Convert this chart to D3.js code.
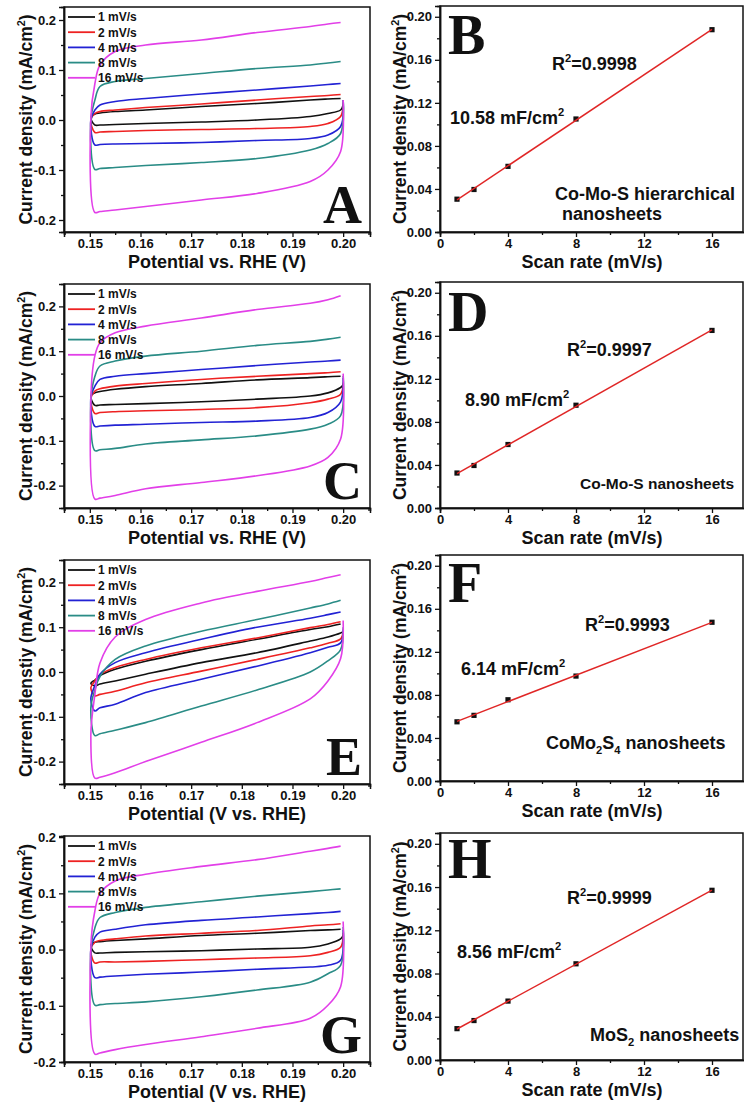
<!DOCTYPE html>
<html>
<head>
<meta charset="utf-8">
<script src="https://cdn.jsdelivr.net/npm/d3@7"></script>
<style>
  body { margin: 0; background: #fff; }
  text { font-family: "Liberation Sans", Arial, sans-serif; font-weight: bold; fill: #111; }
  .letter { font-family: "Liberation Serif", "Times New Roman", serif; font-weight: bold; }
</style>
</head>
<body>
<svg id="fig" width="744" height="1104"></svg>
<script>
/* DATA */
const cvRates = ["1 mV/s", "2 mV/s", "4 mV/s", "8 mV/s", "16 mV/s"];
const cvColors = ["#111111", "#ee2222", "#2222d4", "#2a8c86", "#e23fe8"];
// potentials (V) where the branches were read
const cvPotential = [0.151, 0.152, 0.155, 0.161, 0.172, 0.183, 0.1935, 0.197, 0.1995];

// panel A
const cvUpperA = [
  [0.012, 0.014, 0.017, 0.020, 0.027, 0.033, 0.040, 0.042, 0.043],
  [0.013, 0.017, 0.020, 0.025, 0.032, 0.040, 0.047, 0.049, 0.051],
  [0.020, 0.030, 0.037, 0.043, 0.052, 0.060, 0.068, 0.071, 0.073],
  [0.040, 0.067, 0.077, 0.083, 0.093, 0.103, 0.110, 0.114, 0.117],
  [0.073, 0.110, 0.137, 0.150, 0.160, 0.175, 0.187, 0.192, 0.195]
];
const cvLowerA = [
  [-0.010, -0.010, -0.009, -0.007, -0.004, 0.000, 0.007, 0.013, 0.020],
  [-0.025, -0.024, -0.023, -0.021, -0.019, -0.017, -0.013, -0.007, 0.007],
  [-0.050, -0.049, -0.048, -0.047, -0.045, -0.041, -0.037, -0.030, -0.013],
  [-0.099, -0.097, -0.095, -0.091, -0.085, -0.077, -0.060, -0.047, -0.027],
  [-0.185, -0.183, -0.180, -0.173, -0.160, -0.147, -0.123, -0.100, -0.063]
];
const cvStartA = [0.030, 0.035, 0.040, 0.040, 0.040];
const cvVertexA = [0.005, 0.000, 0.000, 0.000, 0.005];

// panel C
const cvUpperC = [
  [0.007, 0.010, 0.015, 0.021, 0.028, 0.036, 0.041, 0.043, 0.044],
  [0.011, 0.016, 0.022, 0.028, 0.037, 0.044, 0.050, 0.052, 0.054],
  [0.022, 0.037, 0.044, 0.050, 0.059, 0.068, 0.076, 0.078, 0.080],
  [0.044, 0.067, 0.078, 0.089, 0.100, 0.113, 0.122, 0.127, 0.131],
  [0.090, 0.119, 0.141, 0.156, 0.174, 0.193, 0.207, 0.215, 0.224]
];
const cvLowerC = [
  [-0.021, -0.020, -0.019, -0.017, -0.013, -0.007, 0.000, 0.007, 0.019],
  [-0.039, -0.037, -0.035, -0.033, -0.030, -0.026, -0.015, -0.007, 0.004],
  [-0.068, -0.067, -0.065, -0.063, -0.059, -0.056, -0.048, -0.037, -0.013],
  [-0.122, -0.120, -0.117, -0.107, -0.098, -0.089, -0.074, -0.063, -0.044],
  [-0.230, -0.228, -0.222, -0.207, -0.193, -0.178, -0.156, -0.137, -0.096]
];
const cvStartC = [0.025, 0.030, 0.040, 0.045, 0.050];
const cvVertexC = [0.000, -0.005, -0.005, -0.010, -0.010];

// panel E
const cvUpperE = [
  [-0.018, -0.008, 0.006, 0.024, 0.050, 0.073, 0.095, 0.101, 0.107],
  [-0.020, -0.006, 0.010, 0.028, 0.054, 0.076, 0.099, 0.106, 0.112],
  [-0.030, -0.005, 0.021, 0.043, 0.073, 0.100, 0.120, 0.128, 0.134],
  [-0.040, -0.010, 0.028, 0.058, 0.091, 0.117, 0.143, 0.152, 0.160],
  [-0.050, 0.020, 0.078, 0.117, 0.154, 0.180, 0.202, 0.211, 0.217]
];
const cvLowerE = [
  [-0.031, -0.027, -0.020, -0.005, 0.021, 0.043, 0.069, 0.078, 0.087],
  [-0.053, -0.050, -0.043, -0.024, 0.002, 0.028, 0.054, 0.064, 0.074],
  [-0.087, -0.080, -0.072, -0.046, -0.016, 0.013, 0.043, 0.055, 0.065],
  [-0.142, -0.138, -0.130, -0.113, -0.076, -0.040, 0.000, 0.025, 0.050],
  [-0.237, -0.235, -0.225, -0.200, -0.157, -0.113, -0.060, -0.020, 0.030]
];
const cvStartE = [0.090, 0.090, 0.095, 0.100, 0.115];
const cvVertexE = [-0.025, -0.035, -0.060, -0.080, -0.140];

// panel G
const cvUpperG = [
  [0.013, 0.014, 0.016, 0.019, 0.025, 0.029, 0.034, 0.035, 0.036],
  [0.013, 0.016, 0.019, 0.024, 0.029, 0.034, 0.042, 0.044, 0.046],
  [0.022, 0.031, 0.036, 0.044, 0.052, 0.058, 0.064, 0.066, 0.068],
  [0.039, 0.057, 0.066, 0.075, 0.085, 0.095, 0.103, 0.106, 0.108],
  [0.069, 0.100, 0.122, 0.134, 0.148, 0.160, 0.175, 0.180, 0.184]
];
const cvLowerG = [
  [-0.006, -0.006, -0.005, -0.004, -0.002, 0.001, 0.004, 0.010, 0.019],
  [-0.024, -0.022, -0.022, -0.021, -0.018, -0.015, -0.011, -0.005, 0.004],
  [-0.050, -0.049, -0.047, -0.044, -0.040, -0.035, -0.031, -0.028, -0.019],
  [-0.099, -0.098, -0.096, -0.093, -0.084, -0.072, -0.058, -0.043, -0.028],
  [-0.186, -0.184, -0.178, -0.169, -0.155, -0.140, -0.122, -0.099, -0.066]
];
const cvStartG = [0.025, 0.030, 0.035, 0.040, 0.050];
const cvVertexG = [0.008, 0.000, 0.000, 0.000, 0.005];

// scan rate plots
const scanRates = [1, 2, 4, 8, 16];
const currentB = [0.0305, 0.0395, 0.061, 0.105, 0.188];
const currentD = [0.0325, 0.0395, 0.059, 0.0955, 0.165];
const currentF = [0.055, 0.061, 0.0755, 0.0975, 0.1475];
const currentH = [0.029, 0.0365, 0.0545, 0.089, 0.157];

const cvTicks = [0.15, 0.16, 0.17, 0.18, 0.19, 0.20];
const cvMinorTicks = [0.145, 0.155, 0.165, 0.175, 0.185, 0.195, 0.205];
const cvYTicks = [-0.2, -0.1, 0.0, 0.1, 0.2];
const cvYMinor = [-0.25, -0.15, -0.05, 0.05, 0.15, 0.25];
const rateTicks = [0, 4, 8, 12, 16];
const rateMinor = [2, 6, 10, 14];
const densTicks = [0, 0.04, 0.08, 0.12, 0.16, 0.20];
const densMinor = [0.02, 0.06, 0.10, 0.14, 0.18];

const svg = d3.select("#fig");

// text with sup / sub parts
function richText(g, x, y, parts, size, anchor) {
  const t = g.append("text").attr("x", x).attr("y", y)
    .style("font-size", size + "px")
    .attr("text-anchor", anchor || "start");
  let shift = 0;
  parts.forEach(p => {
    const txt = typeof p === "string" ? p : p[0];
    const kind = typeof p === "string" ? "n" : p[1];
    let target = kind === "sup" ? -0.42 * size : kind === "sub" ? 0.3 * size : 0;
    const ts = t.append("tspan").text(txt).attr("dy", target - shift);
    if (kind !== "n") ts.style("font-size", (size * 0.62) + "px");
    shift = target;
  });
  return t;
}

function frame(g, x0, x1, y0, y1) {
  g.append("rect").attr("x", x0).attr("y", y0)
    .attr("width", x1 - x0).attr("height", y1 - y0)
    .attr("fill", "none").attr("stroke", "#111").attr("stroke-width", 1.5);
}

function styleAxis(sel) {
  sel.select(".domain").attr("stroke", "#111").attr("stroke-width", 1.5);
  sel.selectAll(".tick line").attr("stroke", "#111").attr("stroke-width", 1.3);
  sel.selectAll(".tick text").style("font-size", "13px").attr("fill", "#111");
}

/* CV PANELS */
const cvPanels = [
  { letter: "A", top: 7, bottom: 232, yDom: [-0.224, 0.226], up: cvUpperA, lo: cvLowerA, st: cvStartA, vx: cvVertexA, xTitle: "Potential vs. RHE (V)", yWord: "Current density " },
  { letter: "C", top: 284, bottom: 508, yDom: [-0.25, 0.25], up: cvUpperC, lo: cvLowerC, st: cvStartC, vx: cvVertexC, xTitle: "Potential vs. RHE (V)", yWord: "Current density " },
  { letter: "E", top: 560, bottom: 784, yDom: [-0.25, 0.25], up: cvUpperE, lo: cvLowerE, st: cvStartE, vx: cvVertexE, xTitle: "Potential (V vs. RHE)", yWord: "Current denstiy " },
  { letter: "G", top: 836, bottom: 1062, yDom: [-0.2, 0.202], up: cvUpperG, lo: cvLowerG, st: cvStartG, vx: cvVertexG, xTitle: "Potential (V vs. RHE)", yWord: "Current density " }
];

const cvLeft = 64, cvRight = 370;

cvPanels.forEach(p => {
  const g = svg.append("g");
  const x = d3.scaleLinear().domain([0.1449, 0.2053]).range([cvLeft, cvRight]);
  const y = d3.scaleLinear().domain(p.yDom).range([p.bottom, p.top]);
  const line = d3.line().x(d => x(d[0])).y(d => y(d[1])).curve(d3.curveCatmullRom.alpha(0.5));

  p.up.forEach((upper, i) => {
    const lower = p.lo[i];
    const pts = [[0.2, p.st[i]]];
    for (let k = cvPotential.length - 1; k >= 0; k--) pts.push([cvPotential[k], lower[k]]);
    pts.push([0.1502, p.vx[i]]);
    cvPotential.forEach((v, k) => pts.push([v, upper[k]]));
    g.append("path").attr("d", line(pts))
      .attr("fill", "none").attr("stroke", cvColors[i]).attr("stroke-width", 1.6)
      .attr("stroke-linejoin", "round");
  });

  // axes
  const xa = g.append("g").attr("transform", `translate(0,${p.bottom})`)
    .call(d3.axisBottom(x).tickValues(cvTicks).tickFormat(d => d.toFixed(2)).tickSize(5).tickPadding(2));
  styleAxis(xa);
  const xm = g.append("g").attr("transform", `translate(0,${p.bottom})`)
    .call(d3.axisBottom(x).tickValues(cvMinorTicks).tickFormat("").tickSize(3));
  styleAxis(xm);
  const yTicks = cvYTicks.filter(v => v >= p.yDom[0] - 1e-9 && v <= p.yDom[1] + 1e-9);
  const ya = g.append("g").attr("transform", `translate(${cvLeft},0)`)
    .call(d3.axisLeft(y).tickValues(yTicks).tickFormat(d => (Math.abs(d) < 1e-9 ? 0 : d).toFixed(1)).tickSize(5).tickPadding(3));
  styleAxis(ya);
  const ym = g.append("g").attr("transform", `translate(${cvLeft},0)`)
    .call(d3.axisLeft(y).tickValues(cvYMinor.filter(v => v > p.yDom[0] && v < p.yDom[1])).tickFormat("").tickSize(3));
  styleAxis(ym);
  frame(g, cvLeft, cvRight, p.top, p.bottom);

  // legend
  cvRates.forEach((r, i) => {
    const ly = p.top + 10 + i * 15.2;
    g.append("line").attr("x1", 68).attr("x2", 95).attr("y1", ly).attr("y2", ly)
      .attr("stroke", cvColors[i]).attr("stroke-width", 1.8);
    g.append("text").attr("x", 98).attr("y", ly).attr("dy", "0.36em")
      .style("font-size", "12px").text(r);
  });

  // titles
  g.append("text").attr("x", (cvLeft + cvRight) / 2).attr("y", p.bottom + 36)
    .attr("text-anchor", "middle").style("font-size", "18px").text(p.xTitle);
  const yt = g.append("g").attr("transform", `translate(32,${(p.top + p.bottom) / 2}) rotate(-90)`);
  richText(yt, 0, 0, [p.yWord + "(mA/cm", ["2", "sup"], [")", "n"]], 17.5, "middle");

  g.append("text").attr("class", "letter").attr("x", 362).attr("y", p.bottom - 9)
    .attr("text-anchor", "end").style("font-size", "54px").text(p.letter);
});

/* SCAN RATE PANELS */
const ratePanels = [
  { letter: "B", top: 6, bottom: 232, vals: currentB, r2: "=0.9998", r2x: 552, r2y: 70, cap: "10.58 mF/cm", capx: 450, capy: 124,
    label: [[["Co-Mo-S hierarchical"], 555, 200], [["nanosheets"], 562, 220]], letterY: 54 },
  { letter: "D", top: 282, bottom: 508, vals: currentD, r2: "=0.9997", r2x: 567, r2y: 356, cap: "8.90 mF/cm", capx: 465, capy: 406,
    label: [[["Co-Mo-S nanosheets"], 580, 489]], letterY: 331, labelSize: 15.5 },
  { letter: "F", top: 555, bottom: 781, vals: currentF, r2: "=0.9993", r2x: 585, r2y: 631, cap: "6.14 mF/cm", capx: 461, capy: 675,
    label: [[["CoMo", ["2", "sub"], ["S", "n"], ["4", "sub"], [" nanosheets", "n"]], 546, 749]], letterY: 602 },
  { letter: "H", top: 833, bottom: 1060, vals: currentH, r2: "=0.9999", r2x: 567, r2y: 904, cap: "8.56 mF/cm", capx: 457, capy: 958,
    label: [[["MoS", ["2", "sub"], [" nanosheets", "n"]], 590, 1041]], letterY: 878 }
];

const rLeft = 440, rRight = 743;

ratePanels.forEach(p => {
  const g = svg.append("g");
  const x = d3.scaleLinear().domain([0, 18]).range([rLeft, rLeft + 306]);
  const y = d3.scaleLinear().domain([0, 0.21]).range([p.bottom, p.top]);

  // least squares fit
  const mx = d3.mean(scanRates), my = d3.mean(p.vals);
  const slope = d3.sum(scanRates, (v, i) => (v - mx) * (p.vals[i] - my)) / d3.sum(scanRates, v => (v - mx) * (v - mx));
  const icpt = my - slope * mx;

  g.selectAll("rect.pt").data(scanRates).join("rect").attr("class", "pt")
    .attr("x", d => x(d) - 2.6).attr("y", (d, i) => y(p.vals[i]) - 2.6)
    .attr("width", 5.2).attr("height", 5.2).attr("fill", "#111");
  g.append("line").attr("x1", x(1)).attr("x2", x(16))
    .attr("y1", y(icpt + slope)).attr("y2", y(icpt + slope * 16))
    .attr("stroke", "#e02626").attr("stroke-width", 1.5);

  const xa = g.append("g").attr("transform", `translate(0,${p.bottom})`)
    .call(d3.axisBottom(x).tickValues(rateTicks).tickFormat(d3.format("d")).tickSize(5).tickPadding(2));
  styleAxis(xa);
  const xm = g.append("g").attr("transform", `translate(0,${p.bottom})`)
    .call(d3.axisBottom(x).tickValues(rateMinor).tickFormat("").tickSize(3));
  styleAxis(xm);
  const ya = g.append("g").attr("transform", `translate(${rLeft},0)`)
    .call(d3.axisLeft(y).tickValues(densTicks).tickFormat(d3.format(".2f")).tickSize(5).tickPadding(3));
  styleAxis(ya);
  const ym = g.append("g").attr("transform", `translate(${rLeft},0)`)
    .call(d3.axisLeft(y).tickValues(densMinor).tickFormat("").tickSize(3));
  styleAxis(ym);
  frame(g, rLeft, rRight, p.top, p.bottom);

  g.append("text").attr("x", 592).attr("y", p.bottom + 36)
    .attr("text-anchor", "middle").style("font-size", "18px").text("Scan rate (mV/s)");
  const yt = g.append("g").attr("transform", `translate(406,${(p.top + p.bottom) / 2}) rotate(-90)`);
  richText(yt, 0, 0, ["Current density (mA/cm", ["2", "sup"], [")", "n"]], 17.5, "middle");

  richText(g, p.r2x, p.r2y, ["R", ["2", "sup"], [p.r2, "n"]], 18);
  richText(g, p.capx, p.capy, [p.cap, ["2", "sup"]], 18);
  p.label.forEach(l => richText(g, l[1], l[2], l[0], p.labelSize || 18));

  g.append("text").attr("class", "letter").attr("x", 448).attr("y", p.letterY)
    .style("font-size", "56px").text(p.letter);
});
</script>
</body>
</html>
